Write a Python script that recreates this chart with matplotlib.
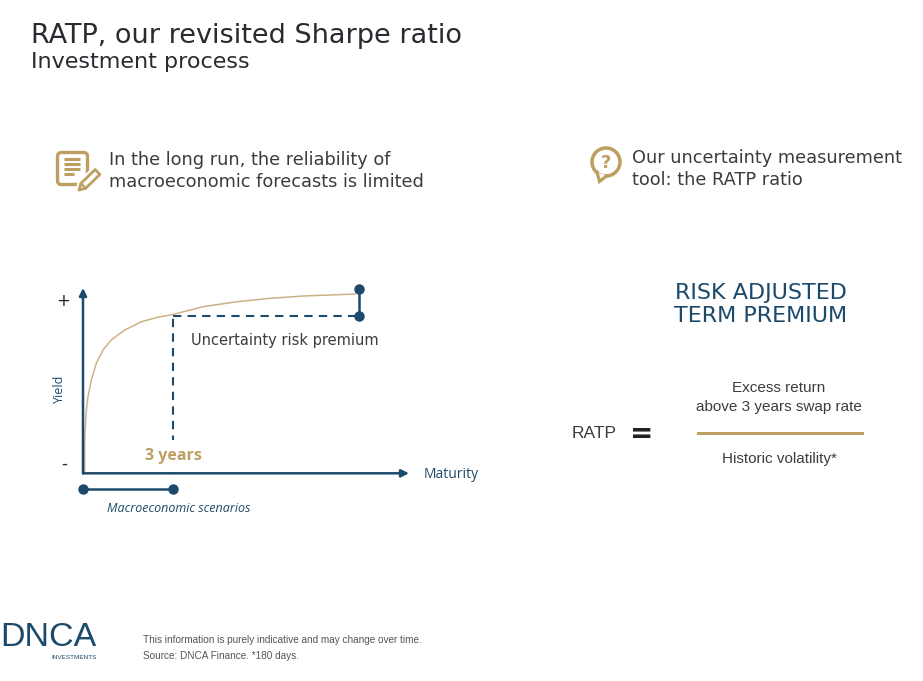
import matplotlib
matplotlib.use("Agg")
import matplotlib.pyplot as plt
from matplotlib.patches import FancyBboxPatch, Circle, Polygon
import numpy as np

# ---- data ----
maturity = [0.056, 0.056, 0.10, 0.166, 0.276, 0.442, 0.664, 0.94, 1.385, 1.937,
            2.49, 3.0, 4.0, 5.11, 6.21, 7.32, 9.04]
yield_curve = [0.0, 0.185, 0.335, 0.426, 0.518, 0.611, 0.685, 0.741, 0.796, 0.842,
               0.867, 0.883, 0.926, 0.953, 0.972, 0.985, 0.996]
horizon_years = 3.0
premium_x = 9.17
premium_low = 0.874
premium_high = 1.022

NAVY = "#1d4a6a"
GOLD = "#bd9f62"
CURVE = "#cdb186"
DARK = "#2a2a30"
GRAY = "#3c3c3c"

fig = plt.figure(figsize=(9.23, 6.81), dpi=100)
fig.patch.set_facecolor("white")

bg = fig.add_axes([0, 0, 1, 1])
bg.set_xlim(0, 923)
bg.set_ylim(681, 0)
bg.axis("off")

# header
bg.text(31, 36, "RATP, our revisited Sharpe ratio", fontsize=19.5, color=DARK,
        family="DejaVu Sans", va="center", ha="left")
bg.text(31, 62, "Investment process", fontsize=16, color=DARK,
        family="DejaVu Sans", va="center", ha="left")

# icon texts
bg.text(109, 160, "In the long run, the reliability of", fontsize=12.8, color=GRAY,
        family="DejaVu Sans", va="center", ha="left")
bg.text(109, 182, "macroeconomic forecasts is limited", fontsize=12.8, color=GRAY,
        family="DejaVu Sans", va="center", ha="left")
bg.text(632, 158, "Our uncertainty measurement", fontsize=12.8, color=GRAY,
        family="DejaVu Sans", va="center", ha="left")
bg.text(632, 180, "tool: the RATP ratio", fontsize=12.8, color=GRAY,
        family="DejaVu Sans", va="center", ha="left")

# document icon
bg.add_patch(FancyBboxPatch((57.5, 152.5), 30, 32, boxstyle="round,pad=0,rounding_size=4",
                            fill=False, ec=GOLD, lw=2.4))
for yy, x2 in zip([159, 164, 169, 174], [80, 80, 80, 74]):
    bg.plot([63.5, x2], [yy, yy], color=GOLD, lw=2.2, solid_capstyle="butt")
T = np.array([79.0, 190.0])
E_ = np.array([97.5, 172.0])
d = (E_ - T) / np.linalg.norm(E_ - T)
n = np.array([-d[1], d[0]])
hw = 3.4
Bp = T + 6 * d
pencil = [T, Bp + hw * n, E_ + hw * n, E_ - hw * n, Bp - hw * n]
bg.add_patch(Polygon(pencil, closed=True, fc="white", ec="white", lw=5, zorder=3))
bg.add_patch(Polygon(pencil, closed=True, fc="white", ec=GOLD, lw=2.0, zorder=4,
                     joinstyle="round"))
bg.plot([(Bp + hw * n)[0], (Bp - hw * n)[0]], [(Bp + hw * n)[1], (Bp - hw * n)[1]],
        color=GOLD, lw=1.6, zorder=5)

# question bubble icon
bg.add_patch(Circle((606, 162), 14, fill=False, ec=GOLD, lw=2.5))
bg.add_patch(Polygon([[597, 172], [599.5, 182], [606, 175.5]], closed=True, fc="white",
                     ec="white", lw=0))
bg.plot([597.0, 599.5, 606.5], [172.0, 181.5, 176.0], color=GOLD, lw=2.3,
        solid_joinstyle="miter")
bg.text(606, 162.5, "?", fontsize=13, color=GOLD, fontweight="bold", family="DejaVu Sans",
        ha="center", va="center")

# RATP formula
bg.text(761, 293, "RISK ADJUSTED", fontsize=16, color=NAVY, family="DejaVu Sans",
        ha="center", va="center")
bg.text(761, 316, "TERM PREMIUM", fontsize=16, color=NAVY, family="DejaVu Sans",
        ha="center", va="center")
bg.text(779, 388, "Excess return", fontsize=11, color=GRAY, family="Liberation Sans",
        ha="center", va="center")
bg.text(779, 407, "above 3 years swap rate", fontsize=11, color=GRAY, family="Liberation Sans",
        ha="center", va="center")
bg.plot([698, 862], [433, 433], color=GOLD, lw=2.2)
bg.text(779, 459, "Historic volatility*", fontsize=11, color=GRAY, family="Liberation Sans",
        ha="center", va="center")
bg.text(594, 434, "RATP", fontsize=12.5, color=GRAY, family="Liberation Sans",
        ha="center", va="center")
bg.text(642, 434, "=", fontsize=20, color="#222222", family="DejaVu Sans", fontweight="bold",
        ha="center", va="center")

# footer
bg.text(0, 638, "DNCA", fontsize=24.5, color=NAVY, family="Liberation Sans",
        ha="left", va="center")
bg.text(74, 657.5, "INVESTMENTS", fontsize=4.6, color=NAVY, family="Liberation Sans",
        ha="center", va="center")
bg.text(143, 640, "This information is purely indicative and may change over time.",
        fontsize=7.2, color="#555555", family="Liberation Sans", ha="left", va="center")
bg.text(143, 656, "Source: DNCA Finance. *180 days.",
        fontsize=7.2, color="#555555", family="Liberation Sans", ha="left", va="center")

# ---- yield curve chart ----
px0, py0, sx, sy = 83.0, 473.3, 30.1, 180.0
L, R, T_, B = 40, 490, 265, 525
ax = fig.add_axes([L / 923, (681 - B) / 681, (R - L) / 923, (B - T_) / 681])
ax.set_xlim((L - px0) / sx, (R - px0) / sx)
ax.set_ylim((py0 - B) / sy, (py0 - T_) / sy)
ax.axis("off")
ax.patch.set_alpha(0)

ax.plot(maturity, yield_curve, color=CURVE, lw=1.1, zorder=3, solid_joinstyle="round")
# axes arrows
ax.annotate("", xy=((409 - px0) / sx, 0), xytext=(0, 0),
            arrowprops=dict(arrowstyle="-|>", color=NAVY, lw=1.8, mutation_scale=11,
                            shrinkA=0, shrinkB=0), zorder=4)
ax.annotate("", xy=(0, (py0 - 288) / sy), xytext=(0, 0),
            arrowprops=dict(arrowstyle="-|>", color=NAVY, lw=1.8, mutation_scale=11,
                            shrinkA=0, shrinkB=0), zorder=4)
# dashed guides
ax.plot([horizon_years, horizon_years], [0, premium_low], color=NAVY, lw=1.5,
        dashes=(4, 3), zorder=2)
ax.plot([horizon_years, premium_x], [premium_low, premium_low], color=NAVY, lw=1.5,
        dashes=(4, 3), zorder=2)
# premium bracket
ax.plot([premium_x, premium_x], [premium_low, premium_high], color=NAVY, lw=1.8,
        marker="o", markersize=6.5, zorder=5)
# macro scenarios bracket
y_macro = (py0 - 489) / sy
ax.plot([0, horizon_years], [y_macro, y_macro], color=NAVY, lw=1.8, marker="o",
        markersize=6.5, zorder=5)

ax.text(191, 341, "Uncertainty risk premium", fontsize=10.5, color=GRAY,
        family="DejaVu Sans", ha="left", va="center", transform=bg.transData)
ax.text(145, 456, "3 years", fontsize=11.5, color=GOLD, family="Open Sans",
        fontweight="bold", ha="left", va="center", transform=bg.transData, zorder=6,
        bbox=dict(boxstyle="square,pad=0.5", fc="white", ec="none"))
bg.text(451, 474, "Maturity", fontsize=10, color=NAVY, family="Open Sans",
        ha="center", va="center")
bg.text(59, 389, "Yield", fontsize=9, color=NAVY, family="Open Sans",
        ha="center", va="center", rotation=90)
bg.text(63, 301, "+", fontsize=12, color=DARK, family="DejaVu Sans", ha="center", va="center")
bg.text(64, 464, "-", fontsize=12, color=DARK, family="DejaVu Sans", ha="center", va="center")
bg.text(179, 508, "Macroeconomic scenarios", fontsize=9, color=NAVY, family="Open Sans",
        style="italic", ha="center", va="center")

fig.savefig("out.png", dpi=100, facecolor="white")
